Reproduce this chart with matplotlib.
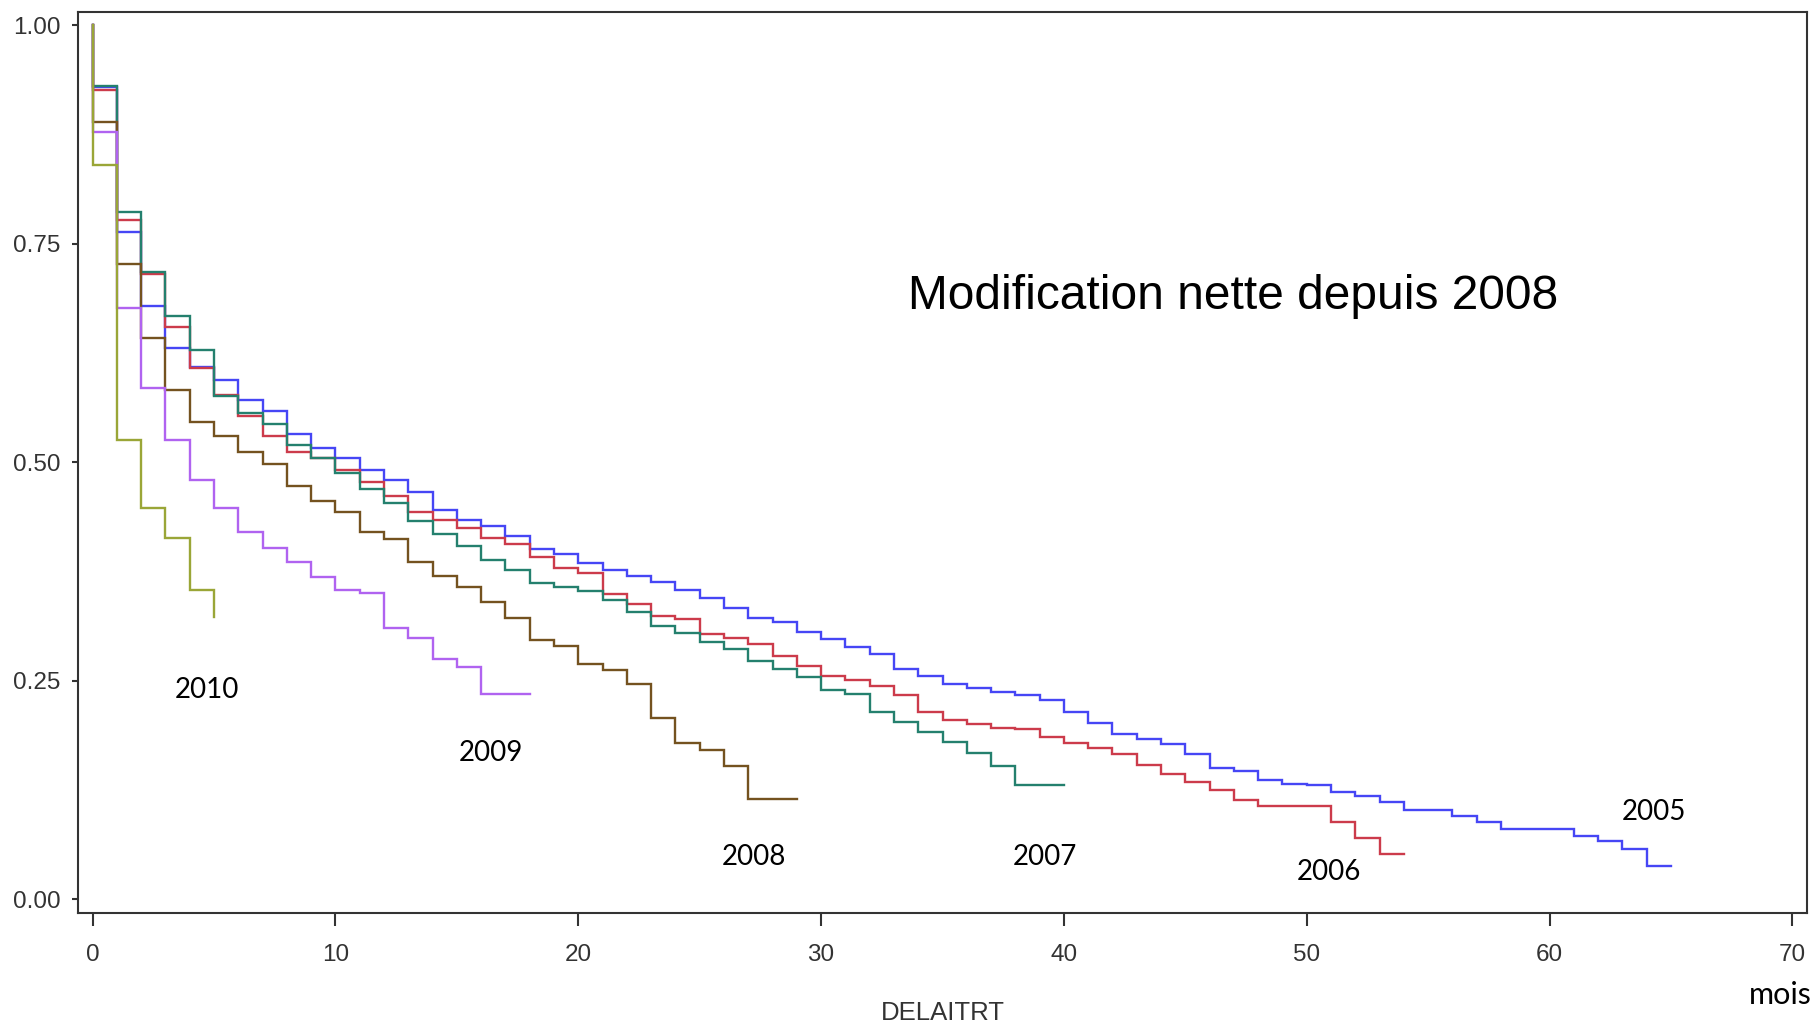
import matplotlib
matplotlib.use("Agg")
import matplotlib.pyplot as plt

# ---- data: survival proportion per month interval (month m -> m+1) ----
years = ["2005", "2006", "2007", "2008", "2009", "2010"]

surv_2005 = [0.929, 0.763, 0.679, 0.631, 0.609, 0.594, 0.571, 0.558, 0.532, 0.516,
             0.505, 0.491, 0.479, 0.466, 0.445, 0.434, 0.427, 0.415, 0.401, 0.395,
             0.385, 0.376, 0.370, 0.363, 0.354, 0.345, 0.333, 0.321, 0.317, 0.306,
             0.297, 0.288, 0.280, 0.263, 0.255, 0.246, 0.242, 0.237, 0.233, 0.228,
             0.214, 0.201, 0.189, 0.183, 0.177, 0.166, 0.150, 0.146, 0.136, 0.132,
             0.130, 0.123, 0.118, 0.111, 0.102, 0.102, 0.095, 0.088, 0.080, 0.080,
             0.080, 0.072, 0.066, 0.057, 0.038]
surv_2006 = [0.926, 0.777, 0.715, 0.654, 0.608, 0.577, 0.553, 0.530, 0.512, 0.505,
             0.491, 0.477, 0.461, 0.443, 0.434, 0.425, 0.413, 0.406, 0.391, 0.379,
             0.373, 0.349, 0.338, 0.324, 0.320, 0.303, 0.299, 0.292, 0.278, 0.267,
             0.255, 0.251, 0.244, 0.233, 0.214, 0.205, 0.200, 0.196, 0.194, 0.185,
             0.178, 0.173, 0.166, 0.153, 0.143, 0.134, 0.125, 0.113, 0.106, 0.106,
             0.106, 0.088, 0.070, 0.051]
surv_2007 = [0.930, 0.786, 0.717, 0.667, 0.628, 0.576, 0.556, 0.544, 0.519, 0.505,
             0.487, 0.469, 0.453, 0.432, 0.418, 0.404, 0.388, 0.377, 0.362, 0.357,
             0.352, 0.342, 0.329, 0.312, 0.304, 0.294, 0.286, 0.272, 0.263, 0.254,
             0.239, 0.235, 0.214, 0.203, 0.191, 0.180, 0.167, 0.152, 0.130, 0.130]
surv_2008 = [0.889, 0.727, 0.642, 0.582, 0.546, 0.530, 0.512, 0.498, 0.473, 0.455,
             0.443, 0.420, 0.412, 0.386, 0.370, 0.357, 0.340, 0.321, 0.296, 0.289,
             0.269, 0.262, 0.246, 0.207, 0.178, 0.171, 0.152, 0.114, 0.114]
surv_2009 = [0.878, 0.676, 0.585, 0.525, 0.479, 0.448, 0.420, 0.402, 0.386, 0.368,
             0.354, 0.350, 0.310, 0.299, 0.275, 0.265, 0.235, 0.235]
surv_2010 = [0.840, 0.525, 0.448, 0.413, 0.354, 0.323]

end_month = [65, 54, 40, 29, 18, 5]

colors = ["#4646f5", "#cc3b4b", "#24806e", "#74521f", "#b063f0", "#9aa637"]

label_pos = [(64.3, 0.100), (50.9, 0.031), (39.2, 0.048), (27.25, 0.048),
             (16.4, 0.167), (4.7, 0.239)]

xticks = [0, 10, 20, 30, 40, 50, 60, 70]
yticks = [0.00, 0.25, 0.50, 0.75, 1.00]
ytick_labels = ["0.00", "0.25", "0.50", "0.75", "1.00"]

title_text = "Modification nette depuis 2008"
xlabel_text = "DELAITRT"
unit_text = "mois"

# ---- figure ----
W, H = 1816, 1027
fig = plt.figure(figsize=(W / 100, H / 100), dpi=100)
ax = fig.add_axes([78 / W, 1 - 913 / H, (1807 - 78) / W, (913 - 12) / H])

series = [surv_2005, surv_2006, surv_2007, surv_2008, surv_2009, surv_2010]
for vals, end, col in zip(series, end_month, colors):
    xs = [0] + list(range(len(vals))) + [end]
    ys = [1.0] + list(vals) + [vals[-1]]
    ax.plot(xs, ys, drawstyle="steps-post", color=col, lw=1.7, solid_joinstyle="miter")

ax.set_xlim(-0.6, 70.6)
ax.set_ylim(-0.016, 1.015)

tick_font = dict(family=["Liberation Sans", "DejaVu Sans"], size=17.5, color="#333333")
ax.set_xticks(xticks)
ax.set_xticklabels([str(t) for t in xticks], **tick_font)
ax.set_yticks(yticks)
ax.set_yticklabels(ytick_labels, **tick_font)
ax.tick_params(axis="x", direction="out", length=9, width=1.5, color="#333333", pad=13)
ax.tick_params(axis="y", direction="out", length=4.5, width=1.5, color="#333333", pad=8)
for sp in ax.spines.values():
    sp.set_color("#333333")
    sp.set_linewidth(1.5)

for yr, (lx, ly) in zip(years, label_pos):
    ax.text(lx, ly, yr, ha="center", va="center", fontsize=20,
            family=["Lato", "DejaVu Sans"], color="black")

ax.text(46.95, 0.690, title_text, ha="center", va="center", fontsize=34.5,
        family=["Liberation Sans", "DejaVu Sans"], color="black")

fig.text(943 / W, 1 - 1013 / H, xlabel_text, ha="center", va="center",
         fontsize=18.5, family=["Liberation Sans", "DejaVu Sans"],
         color="#333333")
fig.text(1812 / W, 1 - 995 / H, unit_text, ha="right", va="center", fontsize=22,
         family=["Lato", "DejaVu Sans"], color="black")

fig.savefig("out.png", dpi=100, facecolor="white")
